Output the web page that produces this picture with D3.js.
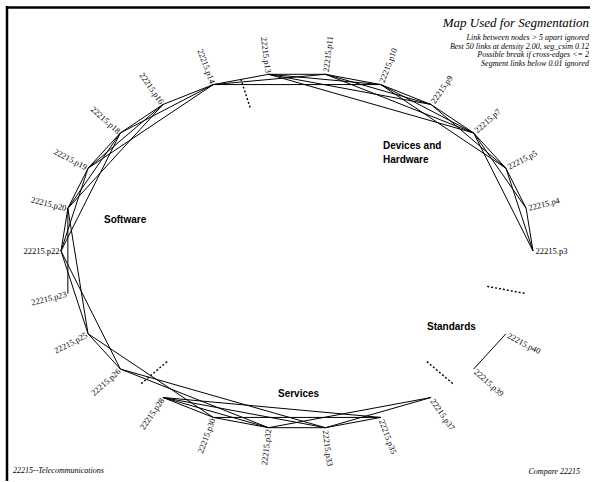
<!DOCTYPE html>
<html>
<head>
<meta charset="utf-8">
<script src="https://cdn.jsdelivr.net/npm/d3@7"></script>
<style>
  body { margin: 0; background: #fff; }
  svg text { fill: #000; }
</style>
</head>
<body>
<div id="chart"></div>
<script>
// nodes in order round the ellipse (slot index = position in this list)
var nodes = ["p3", "p4", "p5", "p7", "p9", "p10", "p11", "p13", "p14", "p16", "p18", "p19", "p20",
  "p22", "p23", "p25", "p26", "p28", "p30", "p32", "p33", "p35", "p37", "p39", "p40"];
var slotCount = 26;
var docId = "22215";

// segment breaks, in slot units
var breaks = [7.5, 16.5, 22.5, 25];

var segmentNames = ["Devices and|Hardware", "Software", "Services", "Standards"];

var links = [
  ["p3", "p4"], ["p3", "p5"], ["p3", "p7"], ["p4", "p5"], ["p4", "p7"],
  ["p5", "p7"], ["p5", "p9"], ["p5", "p10"], ["p7", "p9"], ["p7", "p10"],
  ["p7", "p11"], ["p7", "p13"], ["p9", "p10"], ["p9", "p11"], ["p9", "p13"],
  ["p10", "p11"], ["p10", "p13"], ["p11", "p13"],
  ["p14", "p13"], ["p14", "p11"], ["p14", "p10"],
  ["p14", "p16"], ["p14", "p18"], ["p14", "p19"], ["p16", "p18"], ["p16", "p19"],
  ["p16", "p20"], ["p18", "p19"], ["p18", "p20"], ["p18", "p22"], ["p19", "p20"],
  ["p19", "p22"], ["p20", "p22"], ["p20", "p23"], ["p20", "p25"], ["p22", "p25"],
  ["p22", "p26"], ["p25", "p26"],
  ["p25", "p30"], ["p26", "p32"], ["p26", "p33"],
  ["p28", "p30"], ["p28", "p32"], ["p28", "p33"], ["p28", "p35"], ["p30", "p32"],
  ["p30", "p35"], ["p32", "p33"], ["p32", "p37"], ["p33", "p35"], ["p33", "p37"],
  ["p39", "p40"]
];

var title = "Map Used for Segmentation";
var notes = [
  "Link between nodes > 5 apart ignored",
  "Best 50 links at density 2.00, seg_csim 0.12",
  "Possible break if cross-edges <= 2",
  "Segment links below 0.01 ignored"
];
var footLeft = "22215--Telecommunications";
var footRight = "Compare 22215";

var width = 592, height = 482;
var cx = 297, cy = 251, rx = 236, ry = 178;

var svg = d3.select("#chart")
  .append("svg")
  .attr("width", width)
  .attr("height", height);

var angle = d3.scaleLinear().domain([0, slotCount]).range([0, 2 * Math.PI]);
var x = d3.scaleLinear().domain([-1, 1]).range([cx - rx, cx + rx]);
var y = d3.scaleLinear().domain([-1, 1]).range([cy + ry, cy - ry]);

var pos = {};
nodes.forEach(function(n, i) {
  var a = angle(i);
  pos[n] = { x: x(Math.cos(a)), y: y(Math.sin(a)), deg: a * 180 / Math.PI };
});

// frame: heavy top and left rules
svg.append("line").attr("x1", 6).attr("x2", 590).attr("y1", 7.5).attr("y2", 7.5)
  .attr("stroke", "#000").attr("stroke-width", 2.5);
svg.append("line").attr("x1", 7).attr("x2", 7).attr("y1", 6).attr("y2", 481)
  .attr("stroke", "#000").attr("stroke-width", 2.5);

// links
svg.append("g").selectAll("line")
  .data(links)
  .enter()
  .append("line")
  .attr("x1", d => pos[d[0]].x)
  .attr("y1", d => pos[d[0]].y)
  .attr("x2", d => pos[d[1]].x)
  .attr("y2", d => pos[d[1]].y)
  .attr("stroke", "#000")
  .attr("stroke-width", 1);

// segment breaks
svg.append("g").selectAll("line")
  .data(breaks)
  .enter()
  .append("line")
  .attr("x1", d => x(0.83 * Math.cos(angle(d))))
  .attr("y1", d => y(0.83 * Math.sin(angle(d))))
  .attr("x2", d => x(Math.cos(angle(d))))
  .attr("y2", d => y(Math.sin(angle(d))))
  .attr("stroke", "#000")
  .attr("stroke-width", 1.4)
  .attr("stroke-dasharray", "2,2");

// node labels, radial
svg.append("g").selectAll("text")
  .data(nodes)
  .enter()
  .append("text")
  .attr("transform", function(d) {
    var p = pos[d];
    var left = Math.cos(p.deg * Math.PI / 180) < -0.001;
    var r = left ? 180 - p.deg : -p.deg;
    return "translate(" + p.x + "," + p.y + ") rotate(" + r + ")";
  })
  .attr("x", d => Math.cos(pos[d].deg * Math.PI / 180) < -0.001 ? -1.5 : 2.5)
  .attr("dy", "0.35em")
  .attr("text-anchor", d => Math.cos(pos[d].deg * Math.PI / 180) < -0.001 ? "end" : "start")
  .style("font-family", "'Liberation Serif', 'DejaVu Serif', serif")
  .style("font-size", "8.5px")
  .text(d => docId + "." + d);

// segment names
var segPos = [[383, 149], [104, 223], [278, 397], [427, 330]];
svg.append("g").selectAll("text")
  .data(segmentNames)
  .enter()
  .append("text")
  .attr("x", (d, i) => segPos[i][0])
  .attr("y", (d, i) => segPos[i][1])
  .style("font-family", "'Liberation Sans', Arial, sans-serif")
  .style("font-weight", "bold")
  .style("font-size", "10px")
  .each(function(d, i) {
    d3.select(this).selectAll("tspan")
      .data(d.split("|"))
      .enter()
      .append("tspan")
      .attr("x", segPos[i][0])
      .attr("dy", (t, j) => j === 0 ? 0 : 14)
      .text(t => t);
  });

// title and notes
svg.append("text")
  .attr("x", 589).attr("y", 27)
  .attr("text-anchor", "end")
  .style("font-family", "'Liberation Serif', serif")
  .style("font-style", "italic")
  .style("font-size", "13px")
  .text(title);

svg.append("g").selectAll("text")
  .data(notes)
  .enter()
  .append("text")
  .attr("x", 589)
  .attr("y", (d, i) => 40 + i * 8.5)
  .attr("text-anchor", "end")
  .style("font-family", "'Liberation Serif', serif")
  .style("font-style", "italic")
  .style("font-size", "8px")
  .text(d => d);

svg.append("text")
  .attr("x", 13).attr("y", 473)
  .style("font-family", "'Liberation Serif', serif")
  .style("font-style", "italic")
  .style("font-size", "8px")
  .text(footLeft);

svg.append("text")
  .attr("x", 580).attr("y", 474)
  .attr("text-anchor", "end")
  .style("font-family", "'Liberation Serif', serif")
  .style("font-style", "italic")
  .style("font-size", "8px")
  .text(footRight);
</script>
</body>
</html>
